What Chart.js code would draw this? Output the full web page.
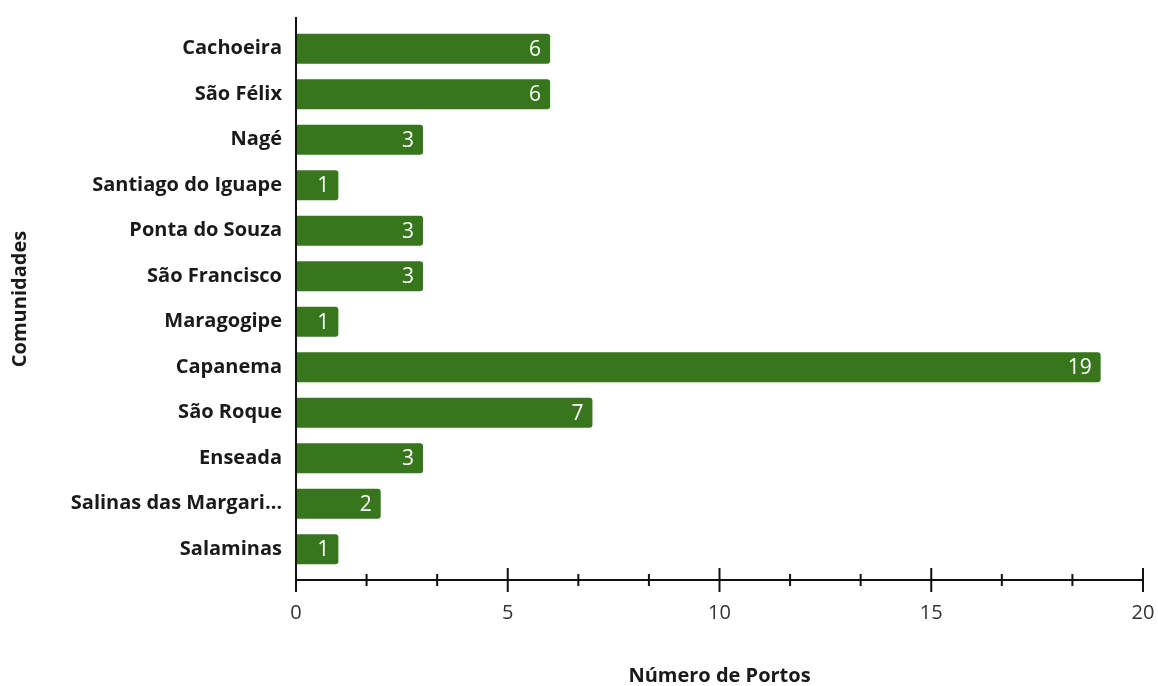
<!DOCTYPE html>
<html>
<head>
<meta charset="utf-8">
<title>Número de Portos por Comunidade</title>
<script src="https://cdn.jsdelivr.net/npm/chart.js@4.4.1/dist/chart.umd.min.js"></script>
<style>
  html, body { margin: 0; padding: 0; background: #ffffff; }
  #wrap { width: 1158px; height: 686px; position: relative; }
</style>
</head>
<body>
<div id="wrap"><canvas id="chart"></canvas></div>
<script>
// Communities and number of ports in each
const communities = [
  'Cachoeira', 'São Félix', 'Nagé', 'Santiago do Iguape', 'Ponta do Souza',
  'São Francisco', 'Maragogipe', 'Capanema', 'São Roque', 'Enseada',
  'Salinas das Margaridas', 'Salaminas'
];
const ports = [6, 6, 3, 1, 3, 3, 1, 19, 7, 3, 2, 1];
const majorTicks = [0, 5, 10, 15, 20];
const minorPerMajor = 3;

const FONT = "'Open Sans', 'DejaVu Sans', sans-serif";
const BAR_COLOR = '#38761d';
const AXIS_COLOR = '#111111';

// Draws the axis lines, long major ticks, short minor ticks and the value labels
const axesAndLabels = {
  id: 'axesAndLabels',
  afterDatasetsDraw(chart) {
    const { ctx, chartArea, scales } = chart;
    const x = scales.x;
    const axisY = chartArea.bottom + 8;
    ctx.save();
    ctx.strokeStyle = AXIS_COLOR;
    ctx.lineWidth = 2;
    ctx.beginPath();
    ctx.moveTo(chartArea.left, chartArea.top - 9);
    ctx.lineTo(chartArea.left, axisY);
    ctx.moveTo(chartArea.left, axisY);
    ctx.lineTo(chartArea.right, axisY);
    // major ticks straddle the axis line
    majorTicks.forEach(v => {
      const px = x.getPixelForValue(v);
      ctx.moveTo(px, axisY - 12);
      ctx.lineTo(px, axisY + 12);
    });
    // minor ticks between majors
    for (let i = 0; i < majorTicks.length - 1; i++) {
      const a = majorTicks[i], b = majorTicks[i + 1];
      for (let k = 1; k < minorPerMajor; k++) {
        const px = x.getPixelForValue(a + (b - a) * k / minorPerMajor);
        ctx.moveTo(px, axisY - 6);
        ctx.lineTo(px, axisY + 6);
      }
    }
    ctx.stroke();

    // value labels inside the bar ends
    const meta = chart.getDatasetMeta(0);
    ctx.fillStyle = '#ffffff';
    ctx.font = "21px " + FONT;
    ctx.textAlign = 'right';
    ctx.textBaseline = 'middle';
    meta.data.forEach((bar, i) => {
      ctx.fillText(String(ports[i]), bar.x - 9, bar.y + 1);
    });
    ctx.restore();
  }
};

new Chart(document.getElementById('chart'), {
  type: 'bar',
  data: {
    labels: communities,
    datasets: [{
      data: ports,
      backgroundColor: BAR_COLOR,
      borderRadius: 3,
      borderSkipped: 'start',
      barPercentage: 0.66,
      categoryPercentage: 1.0
    }]
  },
  options: {
    indexAxis: 'y',
    responsive: true,
    maintainAspectRatio: false,
    animation: false,
    layout: { padding: { left: 0, right: 15, top: 24, bottom: 0 } },
    plugins: {
      legend: { display: false },
      tooltip: { enabled: false }
    },
    scales: {
      x: {
        min: 0,
        max: 20,
        afterBuildTicks(scale) {
          scale.ticks = majorTicks.map(v => ({ value: v }));
        },
        afterFit(scale) {
          scale.height = 114;
          scale.paddingLeft = 0;
          scale.paddingRight = 0;
        },
        grid: { display: false, drawTicks: false },
        border: { display: false },
        ticks: {
          padding: 29,
          color: '#333333',
          font: { family: FONT, size: 20 },
          maxRotation: 0
        },
        title: {
          display: true,
          text: 'Número de Portos',
          color: '#1a1a1a',
          font: { family: FONT, size: 20, weight: 'bold', lineHeight: 1.0 },
          padding: { top: 0, bottom: 0 }
        }
      },
      y: {
        afterFit(scale) { scale.width = 296; },
        grid: { display: false, drawTicks: false },
        border: { display: false },
        ticks: {
          padding: 14,
          color: '#1a1a1a',
          font: { family: FONT, size: 20, weight: 'bold' },
          callback(value) {
            const s = this.getLabelForValue(value);
            return s.length > 20 ? s.slice(0, 19) + '…' : s;
          }
        },
        title: {
          display: true,
          text: 'Comunidades',
          color: '#1a1a1a',
          font: { family: FONT, size: 20, weight: 'bold' },
          padding: { top: 8, bottom: 0 }
        }
      }
    }
  },
  plugins: [axesAndLabels]
});
</script>
</body>
</html>
